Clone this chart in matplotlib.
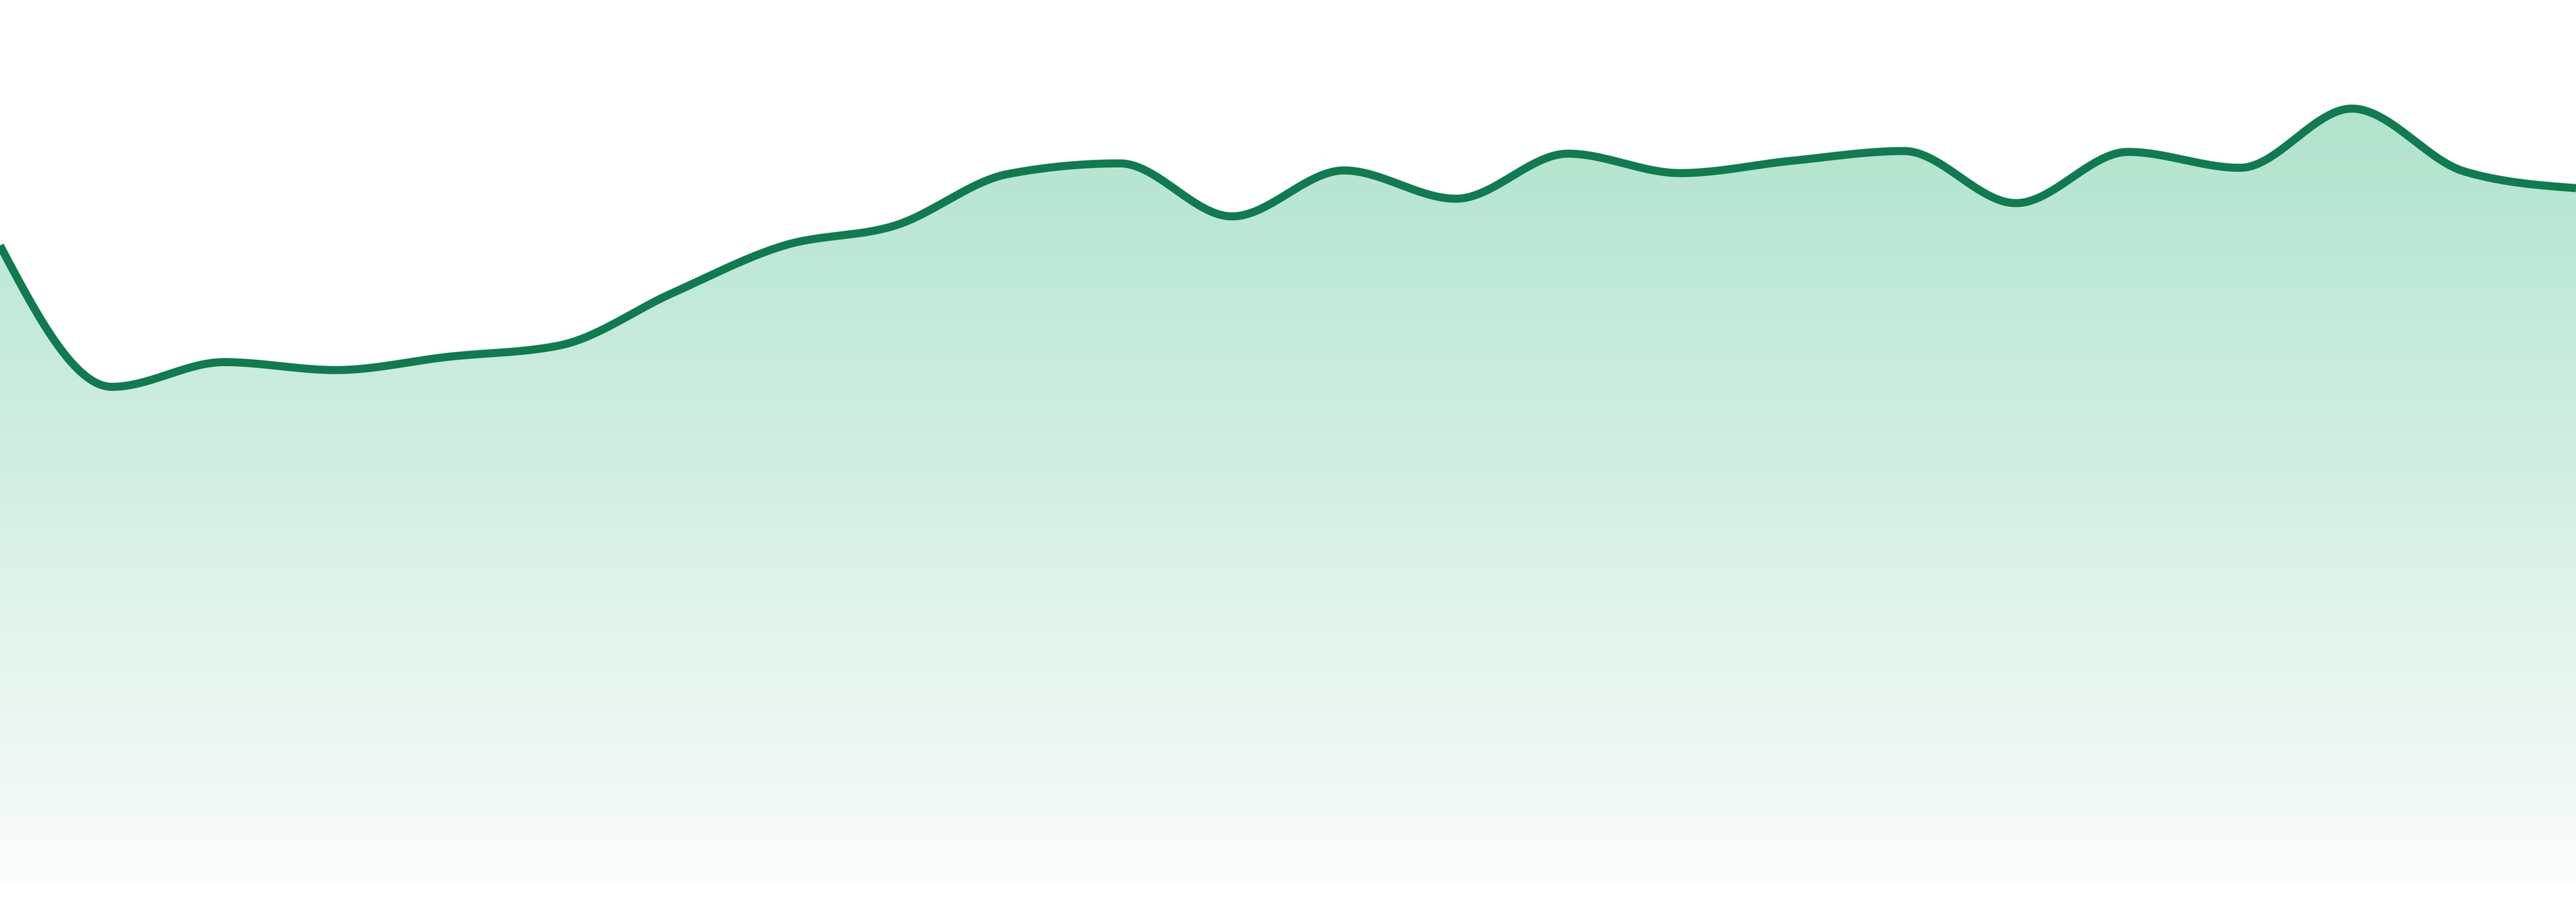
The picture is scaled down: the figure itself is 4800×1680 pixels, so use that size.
import numpy as np
import matplotlib
matplotlib.use("Agg")
import matplotlib.pyplot as plt
from matplotlib.colors import LinearSegmentedColormap
from matplotlib.patches import Polygon

# one value per step
values = [72.2, 56.2, 59.0, 58.1, 59.6, 60.9, 66.8, 72.2, 74.5, 80.3, 81.5, 75.5,
          80.7, 77.5, 82.6, 80.4, 81.8, 82.9, 77.0, 82.8, 81.0, 87.7, 80.6, 78.7]
steps = list(range(len(values)))

LINE_COLOR = "#127a50"
FILL_TOP = "#a6e0c6"
FILL_BOTTOM = "#fafcfb"


def monotone_x(xs, ys, n=60):
    # same idea as d3.curveMonotoneX
    xs = np.asarray(xs, float)
    ys = np.asarray(ys, float)
    h = np.diff(xs)
    s = np.diff(ys) / h
    t = np.zeros_like(ys)
    for i in range(1, len(ys) - 1):
        p = (s[i - 1] * h[i] + s[i] * h[i - 1]) / (h[i - 1] + h[i])
        t[i] = (np.sign(s[i - 1]) + np.sign(s[i])) * min(abs(s[i - 1]), abs(s[i]), 0.5 * abs(p))
    t[0] = (3 * s[0] - t[1]) / 2
    t[-1] = (3 * s[-1] - t[-2]) / 2
    out_x, out_y = [], []
    for i in range(len(h)):
        u = np.linspace(0, 1, n, endpoint=(i == len(h) - 1))
        h00 = 2 * u**3 - 3 * u**2 + 1
        h10 = u**3 - 2 * u**2 + u
        h01 = -2 * u**3 + 3 * u**2
        h11 = u**3 - u**2
        out_x.append(xs[i] + u * h[i])
        out_y.append(h00 * ys[i] + h10 * h[i] * t[i] + h01 * ys[i + 1] + h11 * h[i] * t[i + 1])
    return np.concatenate(out_x), np.concatenate(out_y)


fig = plt.figure(figsize=(24, 8.4), dpi=200)
ax = fig.add_axes([0, 35 / 1680, 1, 1645 / 1680])
ax.set_xlim(steps[0], steps[-1])
ax.set_ylim(0, 100)
ax.axis("off")

cx, cy = monotone_x(steps, values)

poly = Polygon(np.column_stack([np.r_[cx, cx[-1], cx[0]], np.r_[cy, 0, 0]]),
               closed=True, facecolor="none", edgecolor="none")
ax.add_patch(poly)
cmap = LinearSegmentedColormap.from_list("fade", [FILL_BOTTOM, FILL_TOP])
grad = np.linspace(0, 1, 256).reshape(-1, 1)
img = ax.imshow(grad, extent=[steps[0], steps[-1], 0, 100], origin="lower",
                cmap=cmap, aspect="auto", interpolation="bicubic")
img.set_clip_path(poly)

ax.plot(cx, cy, color=LINE_COLOR, linewidth=5.4, solid_capstyle="butt")

fig.savefig("out.png", dpi=200, facecolor="white")
